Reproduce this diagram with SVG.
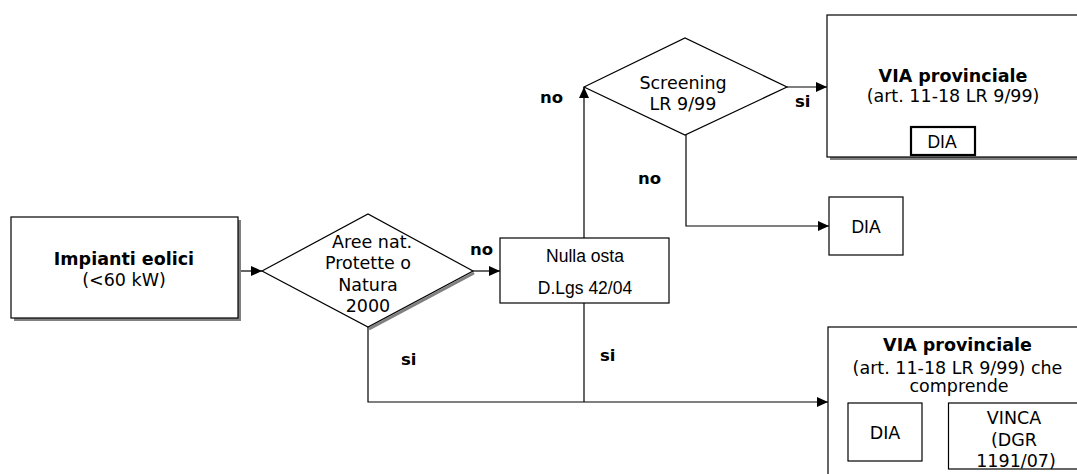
<svg xmlns="http://www.w3.org/2000/svg" width="1077" height="474" viewBox="0 0 1077 474">
  <style>
    .box { fill: #ffffff; stroke: #000000; stroke-width: 1.2; }
    .shadow { fill: none; stroke: #808080; stroke-width: 3; }
    .line { fill: none; stroke: #000000; stroke-width: 1.2; }
    .t { font-family: "DejaVu Sans", Verdana, sans-serif; font-size: 17.5px; fill: #000000; text-anchor: middle; }
    .b { font-weight: bold; }
    .a { font-family: "Liberation Sans", Arial, sans-serif; font-size: 17.5px; fill: #000000; text-anchor: middle; }
    .lbl { font-family: "DejaVu Sans", Verdana, sans-serif; font-size: 16.5px; font-weight: bold; fill: #000000; }
  </style>
  <defs>
    <marker id="arr" markerUnits="userSpaceOnUse" markerWidth="12" markerHeight="10" refX="11" refY="5" orient="auto">
      <path d="M0,0 L11,5 L0,10 Z" fill="#000000"/>
    </marker>
  </defs>
  <rect width="1077" height="474" fill="#ffffff"/>

  <g id="connectors">
    <line class="line" x1="238" y1="271" x2="262" y2="271" marker-end="url(#arr)"/>
    <line class="line" x1="473" y1="271" x2="500" y2="271" marker-end="url(#arr)"/>
    <line class="line" x1="584" y1="238" x2="584" y2="87" marker-end="url(#arr)"/>
    <line class="line" x1="787" y1="87" x2="827" y2="87" marker-end="url(#arr)"/>
    <polyline class="line" points="686,135 686,226 829,226" marker-end="url(#arr)"/>
    <polyline class="line" points="368,327 368,402 828,402" marker-end="url(#arr)"/>
    <line class="line" x1="584" y1="303" x2="584" y2="402"/>
    <text class="lbl" x="470" y="255">no</text>
    <text class="lbl" x="540" y="103">no</text>
    <text class="lbl" x="795" y="107">si</text>
    <text class="lbl" x="638" y="184">no</text>
    <text class="lbl" x="401" y="365">si</text>
    <text class="lbl" x="600" y="361">si</text>
  </g>

  <g id="impianti">
    <polyline class="shadow" points="239.5,220 239.5,319.5 14,319.5"/>
    <rect class="box" x="11" y="217" width="227" height="101"/>
    <text class="t b" x="124" y="265">Impianti eolici</text>
    <text class="t" x="124" y="286">(&lt;60 kW)</text>
  </g>

  <g id="aree">
    <polyline points="474,273 369,329 " fill="none" stroke="#808080" stroke-width="3"/>
    <polygon class="box" points="262,271 368,214 473,271 368,327"/>
    <text class="t" x="372" y="247.5">Aree nat.</text>
    <text class="t" x="368" y="269">Protette o</text>
    <text class="t" x="368" y="290.5">Natura</text>
    <text class="t" x="368" y="311.5">2000</text>
  </g>

  <g id="nulla-osta">
    <rect class="box" x="500" y="238" width="169" height="65"/>
    <text class="a" x="585" y="262">Nulla osta</text>
    <text class="a" x="585" y="294">D.Lgs 42/04</text>
  </g>

  <g id="screening">
    <polygon class="box" points="584,87 685,38 787,87 685,135"/>
    <text class="t" x="683" y="89">Screening</text>
    <text class="t" x="683" y="110">LR 9/99</text>
  </g>

  <g id="via-top">
    <line x1="830" y1="158.5" x2="1077" y2="158.5" stroke="#808080" stroke-width="3"/>
    <rect class="box" x="827" y="15" width="260" height="142"/>
    <text class="t b" x="953" y="81.5">VIA provinciale</text>
    <text class="t" x="953" y="101.5">(art. 11-18 LR 9/99)</text>
    <rect x="911" y="127" width="64" height="28" fill="#ffffff" stroke="#000000" stroke-width="2.2"/>
    <text class="a" x="942" y="148">DIA</text>
  </g>

  <g id="dia-mid">
    <rect class="box" x="829" y="197" width="74" height="58"/>
    <text class="a" x="866" y="233">DIA</text>
  </g>

  <g id="via-bottom">
    <rect class="box" x="828" y="327" width="262" height="160"/>
    <text class="t b" x="957.5" y="351">VIA provinciale</text>
    <text class="t" x="957.5" y="374">(art. 11-18 LR 9/99) che</text>
    <text class="t" x="959" y="392">comprende</text>
    <g id="dia-bottom">
      <rect class="box" x="848" y="403" width="74" height="58"/>
      <text class="t" x="885" y="439">DIA</text>
    </g>
    <g id="vinca">
      <rect class="box" x="948.5" y="403" width="140" height="66"/>
      <text class="t" x="1014" y="424">VINCA</text>
      <text class="t" x="1014" y="445.5">(DGR</text>
      <text class="t" x="1016" y="467">1191/07)</text>
    </g>
  </g>
</svg>
